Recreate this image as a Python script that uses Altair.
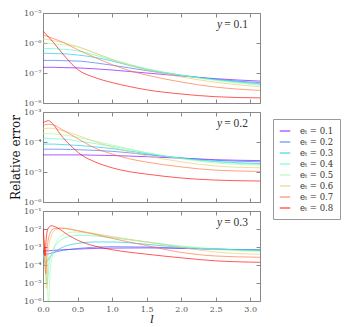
import math
import altair as alt
import pandas as pd

L_MAX = math.pi
X_TICKS = [0.0, 0.5, 1.0, 1.5, 2.0, 2.5, 3.0]
ET = ["0.1", "0.2", "0.3", "0.4", "0.5", "0.6", "0.7", "0.8"]
LEGEND_LABELS = ["eₜ = " + e for e in ET]
COLORS = ["#8000ff", "#376ff9", "#12c8e6", "#5bf9c7",
          "#a4f99f", "#edc76f", "#ff6f39", "#ff0000"]
PANEL_LABELS = ["0.1", "0.2", "0.3"]

# ---- panel y = 0.1 : log10(relative error) ----
P1_L = [0, 0.15, 0.3, 0.5, 0.75, 1.0, 1.25, 1.5, 2.0, 2.5, 3.1416]
P1_V = {
    "0.1": [-6.81, -6.81, -6.82, -6.83, -6.86, -6.90, -6.95, -7.00, -7.10, -7.19, -7.27],
    "0.2": [-6.58, -6.58, -6.59, -6.60, -6.66, -6.74, -6.83, -6.92, -7.08, -7.21, -7.32],
    "0.3": [-6.34, -6.35, -6.36, -6.40, -6.48, -6.60, -6.75, -6.88, -7.07, -7.22, -7.36],
    "0.4": [-6.18, -6.19, -6.21, -6.26, -6.40, -6.56, -6.72, -6.86, -7.07, -7.23, -7.38],
    "0.5": [-6.00, -6.03, -6.06, -6.13, -6.33, -6.54, -6.71, -6.86, -7.08, -7.25, -7.41],
    "0.6": [-5.86, -5.92, -5.99, -6.12, -6.33, -6.55, -6.74, -6.90, -7.13, -7.31, -7.46],
    "0.7": [-5.73, -5.85, -5.99, -6.22, -6.48, -6.72, -6.92, -7.07, -7.30, -7.47, -7.58],
    "0.8": [-5.60, -5.98, -6.40, -6.88, -7.15, -7.32, -7.45, -7.56, -7.70, -7.79, -7.83],
}

# ---- panel y = 0.2 ----
P2_L = [0, 0.08, 0.15, 0.25, 0.4, 0.55, 0.75, 1.0, 1.25, 1.5, 2.0, 2.5, 3.1416]
P2_V = {
    "0.1": [-4.43, -4.43, -4.43, -4.43, -4.43, -4.43, -4.44, -4.45, -4.47, -4.49, -4.54, -4.59, -4.62],
    "0.2": [-4.24, -4.24, -4.24, -4.24, -4.25, -4.26, -4.28, -4.31, -4.36, -4.42, -4.53, -4.61, -4.66],
    "0.3": [-4.07, -4.07, -4.07, -4.08, -4.10, -4.12, -4.16, -4.22, -4.30, -4.39, -4.54, -4.65, -4.72],
    "0.4": [-3.88, -3.88, -3.89, -3.90, -3.93, -3.98, -4.05, -4.14, -4.25, -4.36, -4.54, -4.66, -4.74],
    "0.5": [-3.72, -3.72, -3.73, -3.75, -3.80, -3.87, -3.97, -4.10, -4.23, -4.36, -4.56, -4.70, -4.77],
    "0.6": [-3.56, -3.54, -3.55, -3.60, -3.70, -3.82, -3.98, -4.17, -4.33, -4.46, -4.66, -4.80, -4.86],
    "0.7": [-3.45, -3.41, -3.43, -3.55, -3.75, -3.95, -4.20, -4.40, -4.56, -4.67, -4.83, -4.94, -4.98],
    "0.8": [-3.36, -3.29, -3.42, -3.74, -4.12, -4.42, -4.66, -4.86, -4.99, -5.07, -5.20, -5.27, -5.30],
}

# ---- panel y = 0.3 (irregular sampling around the dips) ----
P3_L = {
    "0.1": [0, 0.1, 0.3, 0.6, 1.0, 1.5, 2.0, 2.5, 3.1416],
    "0.2": [0, 0.05, 0.15, 0.3, 0.6, 1.0, 1.5, 2.0, 2.5, 3.1416],
    "0.3": [0, 0.04, 0.1, 0.2, 0.35, 0.5, 0.75, 1.0, 1.5, 2.0, 2.5, 3.1416],
    "0.4": [0, 0.03, 0.06, 0.09, 0.14, 0.22, 0.35, 0.55, 0.8, 1.0, 1.5, 2.0, 2.5, 3.1416],
    "0.5": [0, 0.035, 0.06, 0.08, 0.1, 0.13, 0.2, 0.3, 0.45, 0.7, 1.0, 1.5, 2.0, 2.5, 3.1416],
    "0.6": [0, 0.025, 0.05, 0.075, 0.11, 0.18, 0.3, 0.5, 0.75, 1.0, 1.5, 2.0, 2.5, 3.1416],
    "0.7": [0, 0.02, 0.04, 0.06, 0.1, 0.16, 0.25, 0.5, 0.75, 1.0, 1.5, 2.0, 2.5, 3.1416],
    "0.8": [0, 0.015, 0.03, 0.045, 0.07, 0.12, 0.2, 0.35, 0.5, 0.75, 1.0, 1.5, 2.0, 2.5, 3.1416],
}
P3_V = {
    "0.1": [-3.22, -3.20, -3.15, -3.10, -3.06, -3.05, -3.08, -3.12, -3.17],
    "0.2": [-3.35, -3.40, -3.30, -3.18, -3.05, -2.98, -3.00, -3.06, -3.12, -3.17],
    "0.3": [-3.70, -3.85, -3.55, -3.20, -2.92, -2.80, -2.72, -2.72, -2.85, -3.02, -3.12, -3.17],
    "0.4": [-3.40, -3.90, -5.00, -3.90, -3.20, -2.75, -2.45, -2.35, -2.40, -2.48, -2.72, -2.95, -3.10, -3.20],
    "0.5": [-2.90, -3.50, -4.60, -6.30, -4.60, -3.60, -2.70, -2.30, -2.17, -2.25, -2.45, -2.72, -2.98, -3.15, -3.25],
    "0.6": [-2.50, -3.30, -5.30, -3.40, -2.50, -2.05, -1.95, -2.08, -2.25, -2.42, -2.72, -3.02, -3.28, -3.40],
    "0.7": [-2.35, -3.10, -4.50, -3.10, -2.25, -1.98, -1.95, -2.10, -2.30, -2.52, -2.92, -3.30, -3.50, -3.57],
    "0.8": [-1.95, -2.60, -3.50, -2.60, -2.00, -1.82, -1.92, -2.30, -2.62, -2.95, -3.15, -3.40, -3.60, -3.77, -3.85],
}

SERIF = "DejaVu Serif"
TEXT_FONT = "Liberation Serif"
TICK = 4
W, H = 217, 90
SUP = {-1: "⁻¹", -2: "⁻²", -3: "⁻³", -4: "⁻⁴", -5: "⁻⁵", -6: "⁻⁶", -7: "⁻⁷", -8: "⁻⁸"}
EXP = "round(log(datum.value)/LN10)"
LABEL_EXPR = "'10' + (" + " : ".join(f"{EXP} == {k} ? '{v}'" for k, v in SUP.items()) + " : '')"


def make_df(l_of, v_of):
    rows = []
    for i, e in enumerate(ET):
        for l, v in zip(l_of(e), v_of[e]):
            rows.append({"l": l, "err": 10 ** v, "et": LEGEND_LABELS[i]})
    return pd.DataFrame(rows)


def panel(df, lo, hi, label, bottom, ytitle):
    xs = alt.Scale(domain=[0, L_MAX], nice=False, zero=False)
    ys = alt.Scale(type="log", domain=[10.0 ** lo, 10.0 ** hi], nice=False)
    yvals = [10.0 ** k for k in range(lo, hi + 1)]
    xaxis_kw = dict(values=X_TICKS, offset=-TICK, tickSize=TICK, domain=False, grid=False,
                    labelFlush=False, format=".1f", labelPadding=4)
    if bottom:
        xaxis = alt.Axis(orient="bottom", title="l", titleFontStyle="italic",
                         titleFontSize=11, titlePadding=0, **xaxis_kw)
    else:
        xaxis = alt.Axis(orient="bottom", labels=False, title=None, **xaxis_kw)
    yaxis_kw = dict(values=yvals, offset=-TICK, tickSize=TICK, domain=False, grid=False,
                    labelExpr=LABEL_EXPR, labelPadding=2, labelFlush=False)
    if ytitle:
        yaxis = alt.Axis(orient="left", title="Relative error", titleFontSize=12,
                         titlePadding=1, **yaxis_kw)
    else:
        yaxis = alt.Axis(orient="left", title=None, **yaxis_kw)

    lines = alt.Chart(df).mark_line(strokeWidth=1, opacity=0.65, clip=True,
                                    interpolate="monotone").encode(
        x=alt.X("l:Q", scale=xs, axis=xaxis),
        y=alt.Y("err:Q", scale=ys, axis=yaxis),
        color=alt.Color("et:N", scale=alt.Scale(domain=LEGEND_LABELS, range=COLORS),
                        legend=alt.Legend(title=None)),
        detail="et:N",
    )
    ghost = alt.Chart(df).mark_line(opacity=0).encode(
        x=alt.X("l:Q", scale=xs, axis=alt.Axis(orient="top", values=X_TICKS, offset=-TICK,
                                                 tickSize=TICK, labels=False, domain=False,
                                                 grid=False, title=None)),
        y=alt.Y("err:Q", scale=ys, axis=alt.Axis(orient="right", values=yvals, offset=-TICK,
                                                   tickSize=TICK, labels=False, domain=False,
                                                   grid=False, title=None)),
        detail="et:N",
    )
    tdf = pd.DataFrame({"v": ["= " + label], "y": ["y"]})
    t_val = alt.Chart(tdf).mark_text(align="right", baseline="middle", font=TEXT_FONT,
                                     fontSize=11.5, color="#333").encode(
        x=alt.value(205), y=alt.value(12), text="v:N")
    t_y = alt.Chart(tdf).mark_text(align="right", baseline="middle", font=TEXT_FONT,
                                   fontSize=11.5, fontStyle="italic", color="#333").encode(
        x=alt.value(179), y=alt.value(12), text="y:N")
    return alt.layer(lines, ghost, t_val, t_y).resolve_axis(
        x="independent", y="independent").properties(width=W, height=H)


df1 = make_df(lambda e: P1_L, P1_V)
df2 = make_df(lambda e: P2_L, P2_V)
df3 = make_df(lambda e: P3_L[e], P3_V)

chart = alt.vconcat(
    panel(df1, -8, -5, PANEL_LABELS[0], False, False),
    panel(df2, -6, -3, PANEL_LABELS[1], False, True),
    panel(df3, -6, -1, PANEL_LABELS[2], True, False),
    spacing=9, bounds="flush",
).properties(padding=0).configure_view(
    stroke="#888", strokeWidth=1
).configure_axis(
    labelFont=SERIF, labelFontSize=8, labelColor="#555", tickColor="#888",
    titleFont=SERIF, titleFontWeight="normal", titleColor="#111"
).configure_legend(
    orient="none", legendX=230, legendY=106, strokeColor="#999", fillColor="white",
    padding=6, labelFont=SERIF, labelFontSize=8.5, labelColor="#333",
    symbolType="stroke", symbolStrokeWidth=1.3, symbolSize=110, symbolOpacity=0.7,
    rowPadding=0, labelOffset=9, cornerRadius=0
)

chart.save("out.html", embed_options={"renderer": "svg", "actions": False})
